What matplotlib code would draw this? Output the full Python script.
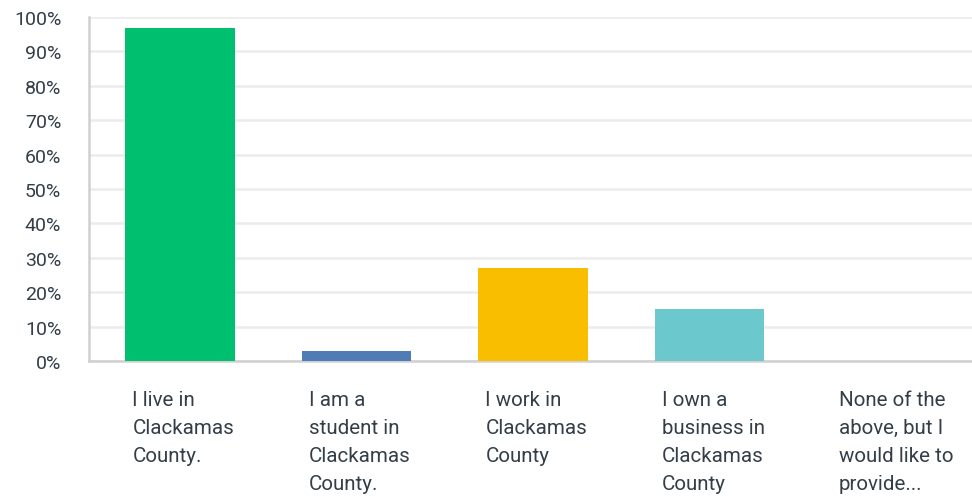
import matplotlib.pyplot as plt
from matplotlib.ticker import FuncFormatter

# Survey answers and shares (percent)
categories = [
    "I live in\nClackamas\nCounty.",
    "I am a\nstudent in\nClackamas\nCounty.",
    "I work in\nClackamas\nCounty",
    "I own a\nbusiness in\nClackamas\nCounty",
    "None of the\nabove, but I\nwould like to\nprovide...",
]
values = [96.9, 2.9, 27.0, 15.1, 0.0]
colors = ["#00bf6f", "#507cb6", "#f9be00", "#6bc8cd", "#b3b3b3"]

plt.rcParams["font.family"] = ["Roboto", "DejaVu Sans"]

fig = plt.figure(figsize=(9.72, 5.02), dpi=100)
ax = fig.add_axes([89 / 972, 1 - 362 / 502, (972 - 89) / 972, 344 / 502])

x = list(range(len(categories)))
ax.bar([i + 0.015 for i in x], values, width=0.62, color=colors, zorder=3)

ax.set_xlim(-0.5, len(categories) - 0.5)
ax.set_ylim(0, 100)
ax.set_yticks(range(0, 101, 10))
ax.yaxis.set_major_formatter(FuncFormatter(lambda v, p: f"{v:.0f}%"))
ax.tick_params(axis="y", length=0, pad=20, labelsize=14, labelcolor="#333e48")
ax.tick_params(axis="x", length=0)
ax.set_xticks([])
for lbl in ax.get_yticklabels():
    lbl.set_horizontalalignment("right")

ax.grid(axis="y", color="#ececec", linewidth=1.8, zorder=0)
for side in ["top", "right"]:
    ax.spines[side].set_visible(False)
for side in ["left", "bottom"]:
    ax.spines[side].set_color("#d0d0d0")
    ax.spines[side].set_linewidth(1.8)

# category labels, left aligned below each bar
for i, lab in enumerate(categories):
    ax.text(i - 0.255, -8.3, lab, ha="left", va="top", fontsize=14.8,
            color="#333e48", linespacing=1.62, transform=ax.transData, clip_on=False)

fig.savefig("out.png", dpi=100)
